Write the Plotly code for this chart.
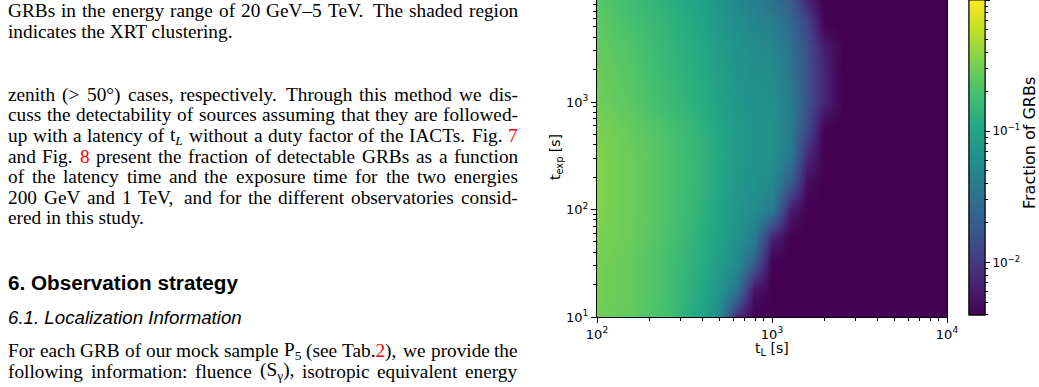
import re
import html
import numpy as np
import plotly.graph_objects as go

# ---------------- data ----------------
t_L = [100, 158, 251, 398, 501, 631, 794, 1000, 1259, 1585, 1995, 2512, 3981, 6310, 10000]
t_exp = [10, 18, 32, 56, 100, 178, 316, 562, 1000, 1778, 3162, 5623, 10000]

# fraction of detectable GRBs: one row per t_exp value, one column per t_L value
frac_texp_10 = [0.296, 0.251, 0.191, 0.0982, 0.0565, 0.0077, 0, 0, 0, 0, 0, 0, 0, 0, 0]
frac_texp_18 = [0.313, 0.265, 0.191, 0.110, 0.0705, 0.0325, 0.0052, 0, 0, 0, 0, 0, 0, 0, 0]
frac_texp_32 = [0.313, 0.265, 0.191, 0.122, 0.0832, 0.0565, 0.0209, 0, 0, 0, 0, 0, 0, 0, 0]
frac_texp_56 = [0.331, 0.281, 0.201, 0.129, 0.0929, 0.0631, 0.0406, 0.0069, 0, 0, 0, 0, 0, 0, 0]
frac_texp_100 = [0.350, 0.281, 0.213, 0.137, 0.0982, 0.0705, 0.0565, 0.0406, 0.0062, 0, 0, 0, 0, 0, 0]
frac_texp_178 = [0.350, 0.281, 0.213, 0.145, 0.104, 0.0745, 0.0631, 0.0535, 0.0209, 0.0047, 0, 0, 0, 0, 0]
frac_texp_316 = [0.350, 0.281, 0.213, 0.145, 0.110, 0.0787, 0.0667, 0.0631, 0.0363, 0.0077, 0, 0, 0, 0, 0]
frac_texp_562 = [0.331, 0.265, 0.201, 0.137, 0.104, 0.0787, 0.0667, 0.0631, 0.0406, 0.0134, 0, 0, 0, 0, 0]
frac_texp_1000 = [0.296, 0.238, 0.171, 0.122, 0.0929, 0.0745, 0.0631, 0.0597, 0.0406, 0.0158, 0.0069, 0, 0, 0, 0]
frac_texp_1778 = [0.281, 0.225, 0.161, 0.116, 0.0879, 0.0705, 0.0597, 0.0565, 0.0363, 0.0158, 0.0069, 0, 0, 0, 0]
frac_texp_3162 = [0.265, 0.213, 0.153, 0.110, 0.0832, 0.0667, 0.0565, 0.0506, 0.0325, 0.015, 0.0062, 0, 0, 0, 0]
frac_texp_5623 = [0.251, 0.191, 0.145, 0.0982, 0.0745, 0.0597, 0.0479, 0.0406, 0.026, 0.012, 0, 0, 0, 0, 0]
frac_texp_10000 = [0.238, 0.171, 0.129, 0.0879, 0.0667, 0.0479, 0.0406, 0.0291, 0.0187, 0.0062, 0, 0, 0, 0, 0]

x_tick_values = [100, 1000, 10000]
x_tick_labels = ["10<sup>2</sup>", "10<sup>3</sup>", "10<sup>4</sup>"]
y_tick_values = [10, 100, 1000]
y_tick_labels = ["10<sup>1</sup>", "10<sup>2</sup>", "10<sup>3</sup>"]
cbar_tick_values = [0.01, 0.1, 1.0]
cbar_tick_labels = ["10<sup>\u22122</sup>", "10<sup>\u22121</sup>", ""]
color_min_frac = 10 ** -2.4
color_max_frac = 1.0

# page text (left column)
caption_lines = [
    "GRBs in the energy range of 20 GeV\u20135 TeV. The shaded region",
    "indicates the XRT clustering.",
]
body_lines_1 = [
    "zenith (&gt; 50\u00b0) cases, respectively. Through this method we dis-",
    "cuss the detectability of sources assuming that they are followed-",
    "up with a latency of t<sub><i>L</i></sub> without a duty factor of the IACTs. Fig. <span style='color:#ff0000'>7</span>",
    "and Fig. <span style='color:#ff0000'>8</span> present the fraction of detectable GRBs as a function",
    "of the latency time and the exposure time for the two energies",
    "200 GeV and 1 TeV, and for the different observatories consid-",
    "ered in this study.",
]
heading_text = "6. Observation strategy"
subheading_text = "6.1. Localization Information"
body_lines_2 = [
    "For each GRB of our mock sample P<sub>5</sub> (see Tab.<span style='color:#ff0000'>2</span>), we provide the",
    "following information: fluence (S<sub>\u03b3</sub>), isotropic equivalent energy",
]

# ---------------- figure ----------------
W, H = 1039, 387


def px(x):
    return x / W


def py(y):
    return 1 - y / H


viridis = [
    [0.0, "#440154"], [0.1, "#482475"], [0.2, "#414487"], [0.3, "#355f8d"],
    [0.4, "#2a788e"], [0.5, "#21918c"], [0.6, "#22a884"], [0.7, "#44bf70"],
    [0.8, "#7ad151"], [0.9, "#bddf26"], [1.0, "#fde725"],
]

frac = np.array([frac_texp_10, frac_texp_18, frac_texp_32, frac_texp_56, frac_texp_100,
                 frac_texp_178, frac_texp_316, frac_texp_562, frac_texp_1000, frac_texp_1778,
                 frac_texp_3162, frac_texp_5623, frac_texp_10000], dtype=float)
zmin = np.log10(color_min_frac)
zmax = np.log10(color_max_frac)
z = np.log10(np.clip(frac, color_min_frac, None))

AX_FONT = "DejaVu Sans"
TICK_SIZE = 13
CB_TICK_SIZE = 12
plot_left, plot_right, plot_bottom, plot_top = 597, 947, 317, 0
cb_left, cb_bottom = 969, 315

cb_common = dict(
    thickness=16, thicknessmode="pixels",
    len=(cb_bottom - 0) / H, lenmode="fraction",
    x=px(cb_left), xanchor="left", xpad=0,
    y=py(cb_bottom), yanchor="bottom", ypad=0,
    outlinewidth=1, outlinecolor="black",
    ticks="outside", tickcolor="black", tickwidth=1,
)

fig = go.Figure()
fig.add_trace(go.Heatmap(
    x=np.log10(t_L), y=np.log10(t_exp), z=z,
    zmin=zmin, zmax=zmax, colorscale=viridis, zsmooth="best",
    hoverinfo="skip",
    colorbar=dict(
        **cb_common,
        tickmode="array", tickvals=list(np.log10(cbar_tick_values)), ticktext=cbar_tick_labels,
        ticklen=5, tickfont=dict(family=AX_FONT, size=CB_TICK_SIZE, color="black"),
    ),
))

# minor ticks of the colour bar (second bar drawn on top of the first)
minor_cb = [k * 10.0 ** d for d in (-3, -2, -1) for k in range(2, 10)]
minor_cb = [v for v in minor_cb if color_min_frac <= v < 1]
fig.add_trace(go.Scatter(
    x=[3], y=[-5], mode="markers", showlegend=False, hoverinfo="skip",
    marker=dict(
        size=1, color=[zmin], cmin=zmin, cmax=zmax, colorscale=viridis, showscale=True,
        colorbar=dict(**cb_common, tickmode="array", tickvals=list(np.log10(minor_cb)),
                      ticktext=[""] * len(minor_cb), ticklen=3),
    ),
))

minor_x = [np.log10(k * 10.0 ** d) for d in (2, 3) for k in range(2, 10)]
minor_y = [np.log10(k * 10.0 ** d) for d in (1, 2, 3) for k in range(2, 10)]

axis_common = dict(
    showgrid=False, zeroline=False, showline=True, linecolor="black", linewidth=1,
    ticks="outside", ticklen=5, tickwidth=1, tickcolor="black",
    tickfont=dict(family=AX_FONT, size=TICK_SIZE, color="black"), tickmode="array",
    automargin=False,
)

fig.update_layout(
    width=W, height=H, margin=dict(l=0, r=0, t=0, b=0, autoexpand=False),
    paper_bgcolor="white", plot_bgcolor="white",
    xaxis=dict(**axis_common, mirror=False, domain=[px(plot_left), px(plot_right)],
               range=[np.log10(100), np.log10(10000)],
               tickvals=list(np.log10(x_tick_values)), ticktext=x_tick_labels,
               minor=dict(tickvals=minor_x, ticklen=3, tickwidth=1, tickcolor="black", ticks="outside")),
    yaxis=dict(**axis_common, mirror=True, domain=[py(plot_bottom), py(plot_top)],
               range=[1, 1 + (plot_bottom - plot_top) / 107.5],
               tickvals=list(np.log10(y_tick_values)), ticktext=y_tick_labels,
               minor=dict(tickvals=minor_y, ticklen=3, tickwidth=1, tickcolor="black", ticks="outside")),
    showlegend=False,
)

annotations = []
# axis titles
annotations.append(dict(x=px(772), y=py(349), xref="paper", yref="paper", showarrow=False,
                        text="t<sub>L</sub> [s]", xanchor="center", yanchor="middle",
                        font=dict(family=AX_FONT, size=14, color="black")))
annotations.append(dict(x=px(556), y=py(157), xref="paper", yref="paper", showarrow=False,
                        text="t<sub>exp</sub> [s]", textangle=-90, xanchor="center", yanchor="middle",
                        font=dict(family=AX_FONT, size=14, color="black")))
annotations.append(dict(x=px(1029), y=py(143), xref="paper", yref="paper", showarrow=False,
                        text="Fraction of GRBs", textangle=-90, xanchor="center", yanchor="middle",
                        font=dict(family=AX_FONT, size=16, color="black")))

# --- left column text, justified like the page ---
SERIF = {' ': 250, 'a': 444, 'b': 500, 'c': 444, 'd': 500, 'e': 444, 'f': 333, 'g': 500, 'h': 500,
         'i': 278, 'j': 278, 'k': 500, 'l': 278, 'm': 778, 'n': 500, 'o': 500, 'p': 500, 'q': 500,
         'r': 333, 's': 389, 't': 278, 'u': 500, 'v': 500, 'w': 722, 'x': 500, 'y': 500, 'z': 444,
         'A': 722, 'B': 667, 'C': 667, 'D': 722, 'E': 611, 'F': 556, 'G': 722, 'H': 722, 'I': 333,
         'J': 389, 'K': 722, 'L': 611, 'M': 889, 'N': 722, 'O': 722, 'P': 556, 'Q': 722, 'R': 667,
         'S': 556, 'T': 611, 'U': 722, 'V': 722, 'W': 944, 'X': 722, 'Y': 722, 'Z': 611,
         '.': 250, ',': 250, '-': 333, '\u2013': 500, '(': 333, ')': 333, '>': 564, '\u00b0': 400,
         ':': 278, '\u03b3': 411}


def plain(s):
    return html.unescape(re.sub(r"<[^>]+>", "", s))


def seg_w(s):
    return sum(SERIF.get(c, 500) for c in s)


def word_w(w):
    tot, pos = 0.0, 0
    for m in re.finditer(r"<sub>(.*?)</sub>", w):
        tot += seg_w(plain(w[pos:m.start()]))
        tot += 0.7 * seg_w(plain(m.group(1)))
        pos = m.end()
    tot += seg_w(plain(w[pos:]))
    return tot


TEXT_LEFT, TEXT_RIGHT = 7, 517
SERIF_SIZE = 19.3


def add_line(text, yc, justified, size=SERIF_SIZE):
    if not justified:
        annotations.append(dict(x=px(TEXT_LEFT), y=py(yc), xref="paper", yref="paper", showarrow=False,
                                text=text, xanchor="left", yanchor="middle", borderpad=0,
                                font=dict(family="Liberation Serif", size=size, color="black")))
        return
    words = re.split(r" (?![^<]*>)", text)
    widths = [word_w(w) * size / 1000 for w in words]
    gap = (TEXT_RIGHT - TEXT_LEFT - sum(widths)) / (len(words) - 1)
    x = TEXT_LEFT
    for w, wd in zip(words, widths):
        annotations.append(dict(x=px(x), y=py(yc), xref="paper", yref="paper", showarrow=False,
                                text=w, xanchor="left", yanchor="middle", borderpad=0,
                                font=dict(family="Liberation Serif", size=size, color="black")))
        x += wd + gap


cap_y = [11, 32]
add_line(caption_lines[0], cap_y[0], True)
add_line(caption_lines[1], cap_y[1], False)
body1_y = [94.5, 115, 135.5, 156, 176.5, 197, 217.5]
for i, (ln, yc) in enumerate(zip(body_lines_1, body1_y)):
    add_line(ln, yc, i < len(body_lines_1) - 1)
annotations.append(dict(x=px(TEXT_LEFT), y=py(282.5), xref="paper", yref="paper", showarrow=False,
                        text="<b>" + heading_text + "</b>", xanchor="left", yanchor="middle", borderpad=0,
                        font=dict(family="Liberation Sans", size=20.7, color="black")))
annotations.append(dict(x=px(TEXT_LEFT), y=py(317.5), xref="paper", yref="paper", showarrow=False,
                        text="<i>" + subheading_text + "</i>", xanchor="left", yanchor="middle", borderpad=0,
                        font=dict(family="Liberation Sans", size=18.7, color="black")))
body2_y = [350.5, 371]
for ln, yc in zip(body_lines_2, body2_y):
    add_line(ln, yc, True)

fig.update_layout(annotations=annotations)
fig.write_html("out.html")
